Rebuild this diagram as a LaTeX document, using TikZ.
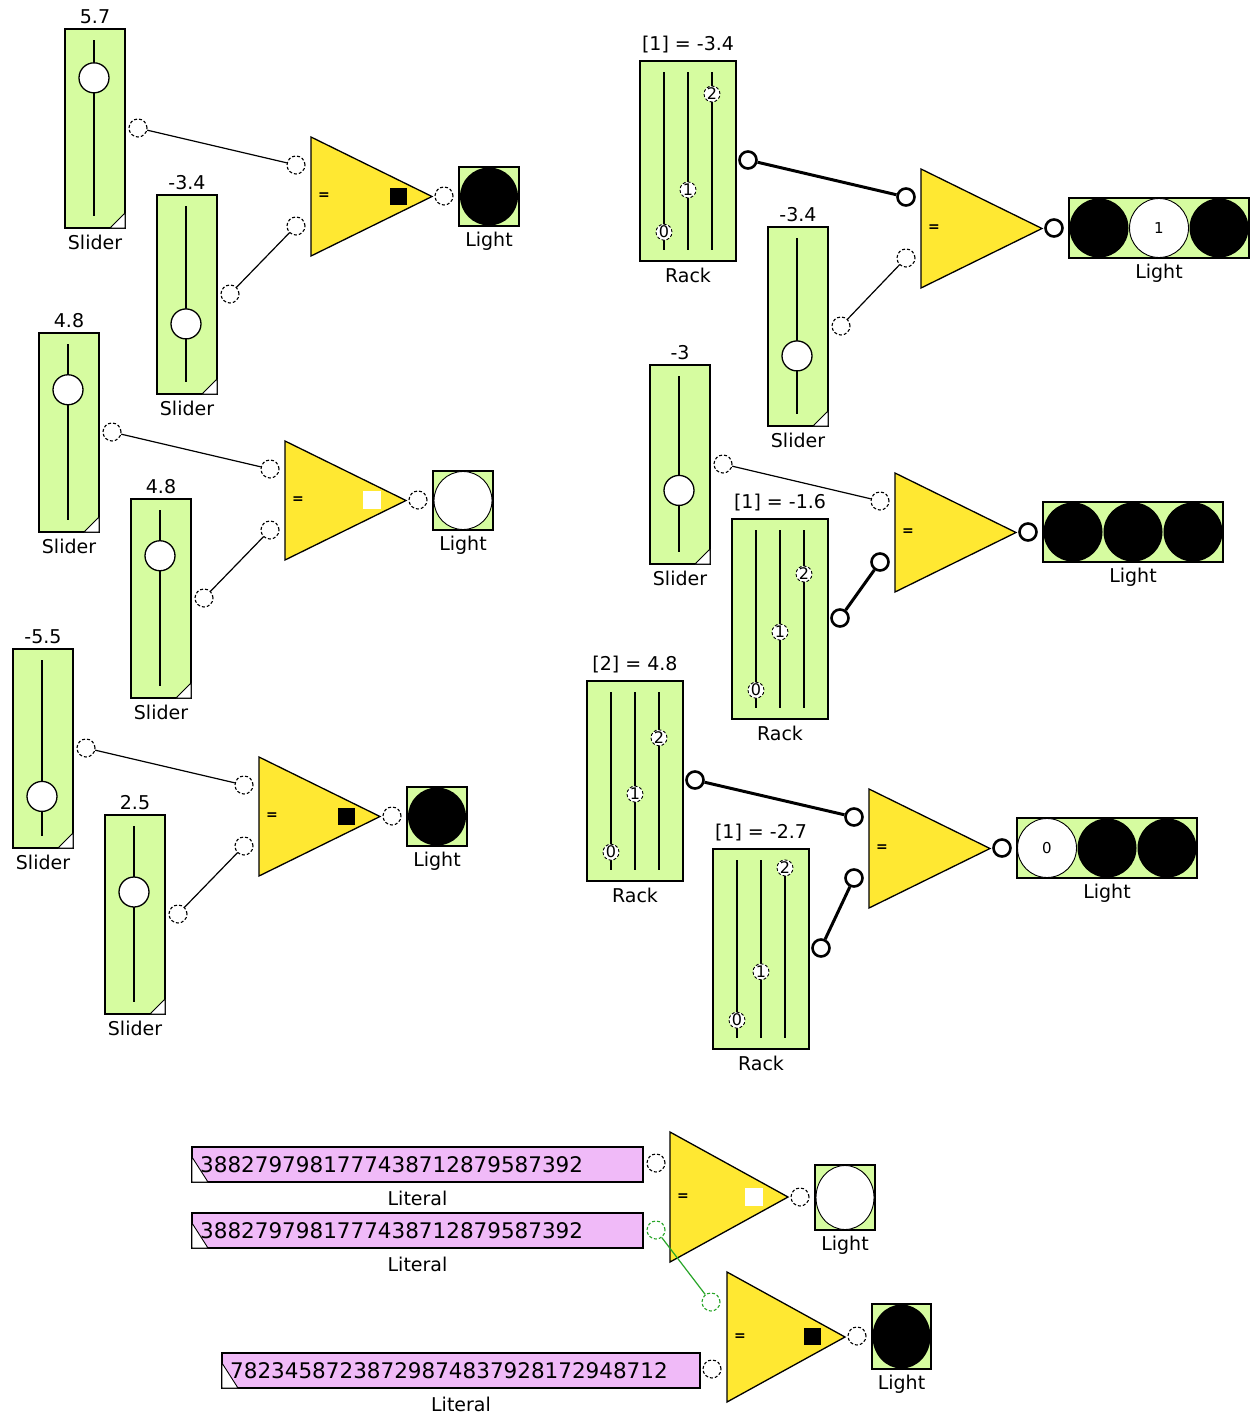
\documentclass[tikz,border=0pt]{standalone}
\usepackage{fontspec}
\setmainfont{DejaVu Sans}
\usetikzlibrary{calc}
\definecolor{boxgreen}{RGB}{214,252,160}
\definecolor{gateyellow}{RGB}{255,232,50}
\definecolor{litpink}{RGB}{240,186,248}
\definecolor{wiregreen}{RGB}{40,165,40}
\tikzset{
	box/.style={draw=black, line width=1.8pt, fill=boxgreen},
	port/.style={circle, draw=black, densely dashed, fill=white, minimum size=18pt, inner sep=0pt, line width=1.1pt},
	tport/.style={circle, draw=black, fill=white, minimum size=17pt, inner sep=0pt, line width=2.6pt},
	rknob/.style={circle, draw=black, densely dashed, fill=white, minimum size=16pt, inner sep=0pt, line width=0.9pt, font=\fontsize{16}{16}\selectfont},
	wire/.style={line width=1.2pt},
	twire/.style={line width=3pt},
	lbl/.style={font=\fontsize{19}{21}\selectfont},
	on/.style={fill=black},
	off/.style={draw=black, fill=white, line width=0.9pt}
}
\def\slider(#1,#2)[#3]{%
	\draw[box] (#1,#2) rectangle ++(60,199);
	\draw[line width=1.6pt] ($(#1,#2)+(29,11)$) -- ++(0,176);
	\draw[fill=white, line width=0.9pt] ($(#1,#2)+(60,184)$) -- ++(0,15) -- ++(-15,0) -- cycle;
	\draw[fill=white, line width=1.3pt] ({#1+29},{#2+11+(10-(#3))*8.8}) circle (15pt);
	\node[lbl] at ($(#1,#2)+(30,-12)$) {#3};
	\node[lbl] at ($(#1,#2)+(30,213)$) {Slider};
}
\def\rack(#1,#2)[#3](#4,#5,#6){%
	\draw[box] (#1,#2) rectangle ++(96,200);
	\foreach \t/\v [count=\i from 0] in {24/#4,48/#5,72/#6}{
		\draw[line width=1.6pt] ({#1+\t},{#2+11}) -- ++(0,178);
		\node[rknob] at ({#1+\t},{#2+11+(10-(\v))*8.8}) {\i};
	}
	\node[lbl] at ($(#1,#2)+(48,-16)$) {#3};
	\node[lbl] at ($(#1,#2)+(48,214)$) {Rack};
}
\def\gate(#1,#2)[#3,#4]{%
	\draw[fill=gateyellow, line width=1.3pt] (#1,#2) -- ++(0,#4) -- ({#1+#3},{#2+#4/2}) -- cycle;
	\node[font=\bfseries\fontsize{14}{14}\selectfont] at ({#1+13},{#2+#4/2}) {=};
}
\def\light(#1,#2)[#3,#4]{%
	\draw[box] (#1,#2) rectangle ++(#3,#4);
	\node[lbl] at ({#1+#3/2},{#2+#4+15}) {Light};
}
\def\literal(#1,#2)[#3]#4{%
	\draw[fill=litpink, line width=1.6pt] (#1,#2) rectangle ++(#3,35);
	\draw[fill=white, line width=0.9pt] ($(#1,#2)+(0,10)$) -- ++(0,25) -- ++(16,0) -- cycle;
	\node[anchor=west, inner sep=0pt, font=\fontsize{21.5}{24}\selectfont] at ($(#1,#2)+(8,18)$) {#4};
	\node[lbl] at ({#1+#3/2},{#2+51}) {Literal};
}

\begin{document}
\begin{tikzpicture}[x=1pt, y=-1pt]
	\path[fill=white, use as bounding box] (0,0) rectangle (1254,1416);
	
	%%%%% LEFT %%%%%
	\slider(65,29)[5.7]
	\slider(157,195)[-3.4]
	\gate(311,137)[121,119]
	\draw[fill=black] (390,188) rectangle ++(16,16);
	\light(459,167)[60,59]
	\fill[on] (489,196.5) circle (29pt);
	\node[port] (s1p) at (138,128) {};
	\node[port] (s2p) at (230,294) {};
	\node[port] (g1a) at (296,165) {};
	\node[port] (g1b) at (296,226) {};
	\node[port] (g1o) at (444,196) {};
	\draw[wire] (s1p) -- (g1a);
	\draw[wire] (s2p) -- (g1b);
	
	\slider(39,333)[4.8]
	\slider(131,499)[4.8]
	\gate(285,441)[121,119]
	\fill[white] (363,491) rectangle ++(18,18);
	\light(433,471)[60,59]
	\draw[off] (463,500.5) circle (29pt);
	\node[port] (s3p) at (112,432) {};
	\node[port] (s4p) at (204,598) {};
	\node[port] (g2a) at (270,469) {};
	\node[port] (g2b) at (270,530) {};
	\node[port] (g2o) at (418,500) {};
	\draw[wire] (s3p) -- (g2a);
	\draw[wire] (s4p) -- (g2b);
	
	\slider(13,649)[-5.5]
	\slider(105,815)[2.5]
	\gate(259,757)[121,119]
	\draw[fill=black] (338,808) rectangle ++(16,16);
	\light(407,787)[60,59]
	\fill[on] (437,816.5) circle (29pt);
	\node[port] (s5p) at (86,748) {};
	\node[port] (s6p) at (178,914) {};
	\node[port] (g3a) at (244,785) {};
	\node[port] (g3b) at (244,846) {};
	\node[port] (g3o) at (392,816) {};
	\draw[wire] (s5p) -- (g3a);
	\draw[wire] (s6p) -- (g3b);
	
	%%%%% RIGHT %%%%%
	\rack(640,61)[{[1] = -3.4}](-8.2,-3.4,7.5)
	\slider(768,227)[-3.4]
	\gate(921,169)[121,119]
	\light(1069,198)[180,60]
	\fill[on] (1099,228) circle (29.5pt);
	\draw[off] (1159,228) circle (29.5pt);
	\node[font=\fontsize{15}{15}\selectfont] at (1159,228) {1};
	\fill[on] (1219,228) circle (29.5pt);
	\node[tport] (r1p) at (748,160) {};
	\node[port] (s7p) at (841,326) {};
	\node[tport] (g4a) at (906,197) {};
	\node[port] (g4b) at (906,258) {};
	\node[tport] (g4o) at (1054,228) {};
	\draw[twire] (r1p) -- (g4a);
	\draw[wire] (s7p) -- (g4b);
	
	\slider(650,365)[-3]
	\rack(732,519)[{[1] = -1.6}](-8.2,-1.6,5.0)
	\gate(895,473)[121,119]
	\light(1043,502)[180,60]
	\fill[on] (1073,532) circle (29.5pt);
	\fill[on] (1133,532) circle (29.5pt);
	\fill[on] (1193,532) circle (29.5pt);
	\node[port] (s8p) at (723,464) {};
	\node[tport] (r2p) at (840,618) {};
	\node[port] (g5a) at (880,501) {};
	\node[tport] (g5b) at (880,562) {};
	\node[tport] (g5o) at (1028,532) {};
	\draw[wire] (s8p) -- (g5a);
	\draw[twire] (r2p) -- (g5b);
	
	\rack(587,681)[{[2] = 4.8}](-8.2,-1.6,4.8)
	\rack(713,849)[{[1] = -2.7}](-8.2,-2.7,9.1)
	\gate(869,789)[121,119]
	\light(1017,818)[180,60]
	\draw[off] (1047,848) circle (29.5pt);
	\node[font=\fontsize{15}{15}\selectfont] at (1047,848) {0};
	\fill[on] (1107,848) circle (29.5pt);
	\fill[on] (1167,848) circle (29.5pt);
	\node[tport] (r3p) at (695,780) {};
	\node[tport] (r4p) at (821,948) {};
	\node[tport] (g6a) at (854,817) {};
	\node[tport] (g6b) at (854,878) {};
	\node[tport] (g6o) at (1002,848) {};
	\draw[twire] (r3p) -- (g6a);
	\draw[twire] (r4p) -- (g6b);
	
	%%%%% BOTTOM %%%%%
	\literal(192,1147)[451]{3882797981777438712879587392}
	\literal(192,1213)[451]{3882797981777438712879587392}
	\literal(222,1353)[478]{78234587238729874837928172948712}
	\gate(670,1132)[118,130]
	\fill[white] (745,1188) rectangle ++(18,18);
	\light(815,1165)[60,65]
	\draw[off] (845,1197.5) ellipse (29pt and 32pt);
	\gate(727,1272)[118,130]
	\draw[fill=black] (804,1328) rectangle ++(16,16);
	\light(872,1304)[59,65]
	\fill[on] (901.5,1336.5) ellipse (29pt and 32pt);
	\node[port] (lit1p) at (656,1163) {};
	\node[port, draw=wiregreen] (lit2p) at (656,1230) {};
	\node[port] (lit3p) at (712,1369) {};
	\node[port, draw=wiregreen] (g8a) at (711,1302) {};
	\node[port] (g7o) at (800,1197) {};
	\node[port] (g8o) at (857,1336) {};
	\draw[wire, wiregreen] (lit2p) -- (g8a);
	
\end{tikzpicture}
\end{document}
